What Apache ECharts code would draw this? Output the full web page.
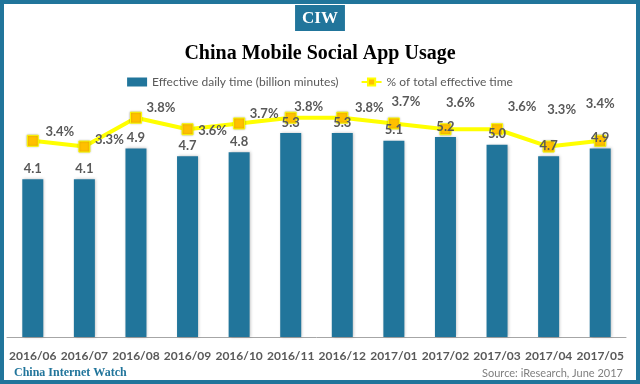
<!DOCTYPE html>
<html><head><meta charset="utf-8">
<script src="https://cdn.jsdelivr.net/npm/echarts@6/dist/echarts.min.js"></script>
<style>html,body{margin:0;padding:0;background:#fff}#c{width:640px;height:384px}</style>
</head><body><div id="c"></div>
<script>
const categories = ['2016/06','2016/07','2016/08','2016/09','2016/10','2016/11','2016/12','2017/01','2017/02','2017/03','2017/04','2017/05'];
const dailyTime = [4.1, 4.1, 4.9, 4.7, 4.8, 5.3, 5.3, 5.1, 5.2, 5.0, 4.7, 4.9];
const shareOfTime = [3.4, 3.3, 3.8, 3.6, 3.7, 3.8, 3.8, 3.7, 3.6, 3.6, 3.3, 3.4];
const seriesNames = ['Effective daily time (billion minutes)', '% of total effective time'];
// label placement offsets (style, not data)
const lineLabelOffsets = [[27,-9],[25,-7],[25,-10],[25,2],[25,-10],[18,-11],[27,-10],[12,-22],[15,-26],[25,-22],[13,-37],[0,-37]];

const blue = '#21759B';
const gray = '#595959';
const font = 'Lato';
const chart = echarts.init(document.getElementById('c'));
chart.setOption({
  animation: false,
  backgroundColor: '#fff',
  title: [
    { text: 'CIW', left: 'center', top: 5, backgroundColor: blue, padding: [5, 7, 4, 7],
      textStyle: { color: '#fff', fontFamily: 'Liberation Serif', fontWeight: 'bold', fontSize: 17 } },
    { text: 'China Mobile Social App Usage', left: 'center', top: 39,
      textStyle: { color: '#000', fontFamily: 'Liberation Serif', fontWeight: 'bold', fontSize: 20 } },
    { text: 'China Internet Watch', left: 9, top: 362,
      textStyle: { color: blue, fontFamily: 'Liberation Serif', fontWeight: 'bold', fontSize: 12 } },
    { text: 'Source: iResearch, June 2017', right: 12, top: 363,
      textStyle: { color: '#7f7f7f', fontFamily: font, fontWeight: 'normal', fontSize: 11 } }
  ],
  legend: {
    top: 71, left: 'center', itemGap: 22, itemWidth: 20, itemHeight: 9,
    textStyle: { color: gray, fontFamily: font, fontSize: 12 },
    data: [
      { name: seriesNames[0], icon: 'rect' },
      { name: seriesNames[1] }
    ]
  },
  grid: { left: 7, right: 14, top: 90, bottom: 47, containLabel: false },
  xAxis: {
    type: 'category', data: categories,
    axisLine: { lineStyle: { color: '#a6a6a6', width: 1 } },
    axisTick: { show: false },
    axisLabel: { color: gray, fontFamily: font, fontWeight: 'bold', fontSize: 12, margin: 13, interval: 0 }
  },
  yAxis: [
    { type: 'value', min: 0, max: 6.42, show: false, splitLine: { show: false } },
    { type: 'value', min: 0, max: 4.28, show: false, splitLine: { show: false } }
  ],
  series: [
    {
      name: seriesNames[0], type: 'bar', yAxisIndex: 0, data: dailyTime, barWidth: 21,
      itemStyle: { color: blue, shadowColor: 'rgba(0,0,0,0.25)', shadowBlur: 3, shadowOffsetX: 1, shadowOffsetY: 0 },
      label: { show: true, position: 'top', distance: 4, color: gray, fontFamily: font, fontWeight: 'bold', fontSize: 13,
        formatter: p => p.value.toFixed(1) },
      z: 4
    },
    {
      name: seriesNames[1], type: 'line', yAxisIndex: 1,
      data: shareOfTime.map((v, i) => ({ value: v, label: { offset: lineLabelOffsets[i] } })),
      symbol: 'rect', symbolSize: 11,
      lineStyle: { color: '#FFFF00', width: 4 },
      itemStyle: { color: '#FFC000', borderColor: '#FFFF00', borderWidth: 1, shadowColor: 'rgba(0,0,0,0.25)', shadowBlur: 2 },
      label: { show: true, position: 'inside', color: gray, fontFamily: font, fontWeight: 'bold', fontSize: 13,
        formatter: p => p.value.toFixed(1) + '%' },
      z: 3
    }
  ],
  graphic: [
    { type: 'rect', shape: { x: 2, y: 2, width: 636, height: 380 }, style: { fill: 'none', stroke: blue, lineWidth: 4 }, silent: true, z: 100 }
  ]
});
</script>
</body></html>
